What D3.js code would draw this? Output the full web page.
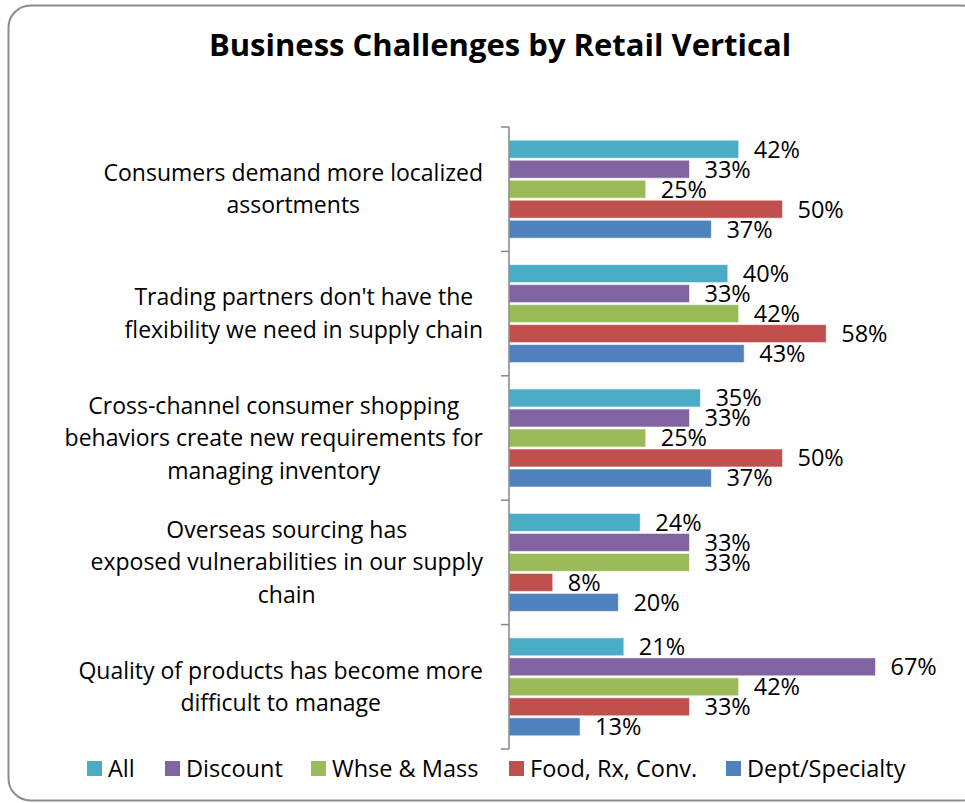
<!DOCTYPE html>
<html>
<head>
<meta charset="utf-8">
<script src="https://cdn.jsdelivr.net/npm/d3@7"></script>
<style>
  html, body { margin: 0; padding: 0; background: #fff; }
  svg { display: block; font-family: "Open Sans", Lato, sans-serif; }
</style>
</head>
<body>
<div id="chart"></div>
<script>
// categories (each entry is the list of wrapped lines)
const categories = [
  ['Consumers demand more localized', 'assortments'],
  ["Trading partners don't have the", 'flexibility we need in supply chain'],
  ['Cross-channel consumer shopping', 'behaviors create new requirements for', 'managing inventory'],
  ['Overseas sourcing has', 'exposed vulnerabilities in our supply', 'chain'],
  ['Quality of products has become more', 'difficult to manage']
];
const series = ['All', 'Discount', 'Whse & Mass', 'Food, Rx, Conv.', 'Dept/Specialty'];
const colors = ['#4BACC6', '#8064A2', '#9BBB59', '#C0504D', '#4F81BD'];

// values in percent, one array per series, in category order
const allValues = [42, 40, 35, 24, 21];
const discountValues = [33, 33, 33, 33, 67];
const whseValues = [25, 42, 25, 33, 42];
const foodValues = [50, 58, 50, 8, 33];
const deptValues = [37, 43, 37, 20, 13];
const seriesValues = [allValues, discountValues, whseValues, foodValues, deptValues];

const width = 965, height = 803;
const svg = d3.select('#chart').append('svg')
  .attr('width', width).attr('height', height);

// outer frame
svg.append('rect')
  .attr('x', 8.5).attr('y', 5.5)
  .attr('width', 975).attr('height', 795)
  .attr('rx', 22)
  .attr('fill', '#fff')
  .attr('stroke', '#8c8c8c')
  .attr('stroke-width', 2);

svg.append('text')
  .attr('x', 500).attr('y', 56)
  .attr('text-anchor', 'middle')
  .attr('font-size', 31)
  .attr('font-weight', 'bold')
  .attr('fill', '#000')
  .text('Business Challenges by Retail Vertical');

const x0 = 509;
const x = d3.scaleLinear().domain([0, 80]).range([x0, x0 + 80 * 5.47]);
const y = d3.scaleBand().domain(d3.range(categories.length)).range([127, 749]);
const yInner = d3.scaleBand().domain(d3.range(series.length))
  .range([0, y.bandwidth()]).paddingInner(0.1).paddingOuter(0.66);

// bars + labels
const groups = svg.selectAll('.group')
  .data(categories.map((c, i) => i))
  .enter().append('g')
  .attr('class', 'group')
  .attr('transform', i => `translate(0,${y(i)})`);

groups.each(function (ci) {
  const g = d3.select(this);
  const rows = series.map((s, si) => ({ si, v: seriesValues[si][ci] }));
  g.selectAll('rect')
    .data(rows)
    .enter().append('rect')
    .attr('x', x(0))
    .attr('y', d => yInner(d.si))
    .attr('width', d => x(d.v) - x(0))
    .attr('height', yInner.bandwidth())
    .attr('fill', d => colors[d.si])
    .attr('stroke', '#fff')
    .attr('stroke-opacity', 0.6)
    .attr('stroke-width', 1);
  g.selectAll('text.val')
    .data(rows)
    .enter().append('text')
    .attr('class', 'val')
    .attr('x', d => x(d.v) + 15)
    .attr('y', d => yInner(d.si) + yInner.bandwidth() / 2 + 8.5)
    .attr('font-size', 23.5)
    .attr('fill', '#000')
    .text(d => d.v + '%');
});

// axis line with ticks at group boundaries
const axis = svg.append('g').attr('stroke', '#868686').attr('stroke-width', 1.5);
axis.append('line').attr('x1', x0).attr('x2', x0).attr('y1', 127).attr('y2', 749);
d3.range(categories.length + 1).forEach(i => {
  const ty = i < categories.length ? y(i) : 749;
  axis.append('line').attr('x1', x0 - 8).attr('x2', x0).attr('y1', ty).attr('y2', ty);
});

// category labels: block right-aligned at 483, lines centered within block
const labelRight = 483, lineH = 32.5;
categories.forEach((lines, ci) => {
  const t = svg.append('text')
    .attr('font-size', 23)
    .attr('fill', '#000')
    .attr('text-anchor', 'middle');
  const cy = y(ci) + y.bandwidth() / 2;
  const spans = lines.map((ln, li) => t.append('tspan')
    .attr('y', cy + (li - (lines.length - 1) / 2) * lineH + 8)
    .text(ln));
  const maxW = d3.max(spans, s => s.node().getComputedTextLength());
  spans.forEach(s => s.attr('x', labelRight - maxW / 2));
});

// legend
const legendX = [87, 165, 311, 509, 726];
const legend = svg.selectAll('.legend')
  .data(series)
  .enter().append('g')
  .attr('class', 'legend')
  .attr('transform', (d, i) => `translate(${legendX[i]},761)`);
legend.append('rect')
  .attr('width', 15).attr('height', 15)
  .attr('fill', (d, i) => colors[i]);
legend.append('text')
  .attr('x', 21).attr('y', 16)
  .attr('font-size', 23.5)
  .attr('fill', '#000')
  .text(d => d);
</script>
</body>
</html>
